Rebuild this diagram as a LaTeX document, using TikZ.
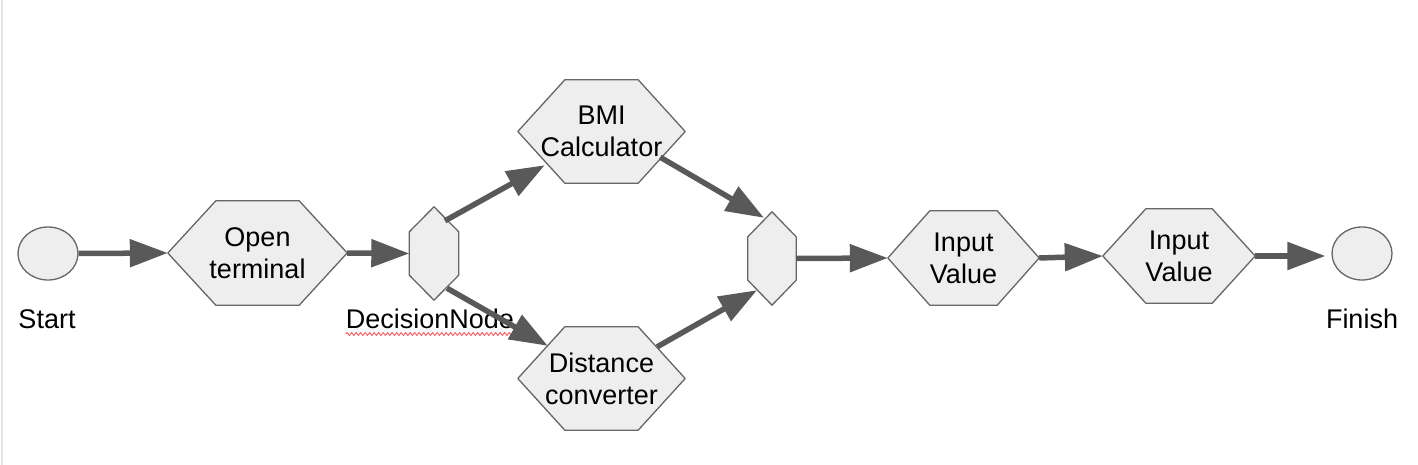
\documentclass[tikz,border=0pt]{standalone}
\usepackage{fontspec}
\setmainfont{Liberation Sans}
\usetikzlibrary{arrows.meta,shapes.geometric,backgrounds,decorations.pathmorphing}
\definecolor{hexfill}{HTML}{EEEEEE}
\definecolor{hexline}{HTML}{666666}
\definecolor{flowgray}{HTML}{595959}
\begin{document}
\begin{tikzpicture}[x=1pt,y=-1pt,
                        proc/.style 2 args={shape=rectangle,inner sep=0pt,align=center,minimum width=#1pt,minimum height=#2pt,font=\fontsize{27}{32}\selectfont},
                        term/.style={shape=ellipse,draw=hexline,fill=hexfill,line width=1.3pt,minimum width=60pt,minimum height=53pt,inner sep=0pt},
                        lbl/.style={anchor=base,inner sep=0pt,font=\fontsize{27}{32}\selectfont},
                        hex/.style={draw=hexline,fill=hexfill,line width=1.3pt,line join=round},
                        flow/.style={-{Triangle[length=38pt,width=27pt]},line width=5.5pt,draw=flowgray}]
                        \useasboundingbox (0,0) rectangle (1418,465);
                        \draw[black!10,line width=1.5pt] (2,0) -- (2,465);
                        % nodes
                        \node[term] (start) at (48,253.5) {};
                        \node[proc={179}{104}] (open) at (257.5,253) {Open\\terminal};
                        \node[proc={49}{93}] (dec) at (434,253.5) {};
                        \node[proc={167}{103}] (bmi) at (601.5,131.5) {BMI\\Calculator};
                        \node[proc={167}{103}] (dist) at (601.5,378.5) {Distance\\converter};
                        \node[proc={48}{93}] (merge) at (772,258.5) {};
                        \node[proc={151}{94}] (in1) at (963.5,258) {Input\\Value};
                        \node[proc={152}{94}] (in2) at (1179,256) {Input\\Value};
                        \node[term] (finish) at (1362,253.5) {};
                        % labels
                        \node[lbl] (startlbl) at (47,328) {Start};
                        \node[lbl] (declbl) at (430,328) {DecisionNode};
                        \node[lbl] (finishlbl) at (1362,328) {Finish};
                        \draw[red!70,line width=0.8pt,decorate,decoration={snake,amplitude=1.5pt,segment length=4.5pt}]
                            ([yshift=-6pt]declbl.base west) -- ([yshift=-6pt]declbl.base east);
                        % hexagon outlines behind the texts
                        \begin{scope}[on background layer]
                        \foreach \n/\s in {open/48,bmi/47,dist/47,in1/42,in2/43}
                            \draw[hex] (\n.west) -- ([xshift=\s pt]\n.north west) -- ([xshift=-\s pt]\n.north east)
                                -- (\n.east) -- ([xshift=-\s pt]\n.south east) -- ([xshift=\s pt]\n.south west) -- cycle;
                        \foreach \n in {dec,merge}
                            \draw[hex] (\n.north) -- ([yshift=-25pt]\n.north east) -- ([yshift=25pt]\n.south east)
                                -- (\n.south) -- ([yshift=25pt]\n.south west) -- ([yshift=-25pt]\n.north west) -- cycle;
                        \end{scope}
                        % connectors
                        \draw[flow] (start.east) -- (open.west);
                        \draw[flow] (open.east) -- (dec.west);
                        \draw[flow] ([xshift=11pt,yshift=-14pt]dec.north) -- ([xshift=27pt,yshift=18pt]bmi.south west);
                        \draw[flow] ([xshift=13pt,yshift=12pt]dec.south) -- ([xshift=30pt,yshift=-19pt]dist.north west);
                        \draw[flow] ([xshift=-25pt,yshift=26pt]bmi.south east) -- ([xshift=-8pt,yshift=-6pt]merge.north);
                        \draw[flow] ([xshift=-28pt,yshift=-20pt]dist.north east) -- ([xshift=-15pt,yshift=15pt]merge.south);
                        \draw[flow] (merge.east) -- (in1.west);
                        \draw[flow] (in1.east) -- (in2.west);
                        \draw[flow] (in2.east) -- ([xshift=-6pt]in2.east -| finish.west);
                \end{tikzpicture}
\end{document}
